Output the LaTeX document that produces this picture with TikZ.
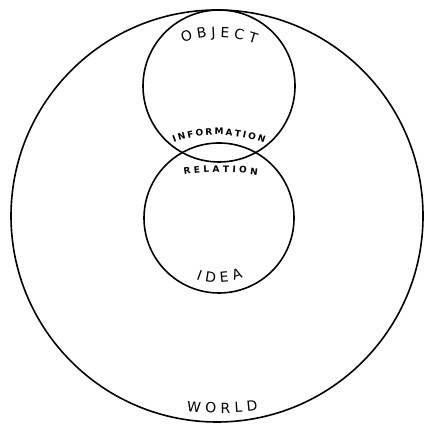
\documentclass[tikz,border=0pt]{standalone}
\usepackage{fontspec}
\setmainfont{DejaVu Sans}
\usetikzlibrary{decorations.text}

\begin{document}
\begin{tikzpicture}[x=1pt,y=1pt,
  ring/.style={line width=1.6pt},
  arcword/.style={decoration={text along path, text={#1}, text align=center},
    decorate}]
  \useasboundingbox (0,0) rectangle (426,427);
  % the three circles
  \draw[ring] (217,211) circle (206);
  \draw[ring] (219,341) circle (76);
  \draw[ring] (219,209) circle (75);
  % words along the arcs, a kern before each letter spreads them
  \path[arcword={|\fontsize{14}{14}\selectfont\kern4.5pt|OBJECT}]
    (217,280) ++(130:110) arc[start angle=130, end angle=50, radius=110];
  \path[arcword={|\bfseries\fontsize{9}{9}\selectfont\kern2pt|INFORMATION}]
    (218,162) ++(125:130) arc[start angle=125, end angle=55, radius=130];
  \path[arcword={|\bfseries\fontsize{9}{9}\selectfont\kern3.3pt|RELATION}]
    (219,25) ++(105:230) arc[start angle=105, end angle=75, radius=230];
  \path[arcword={|\fontsize{14}{14}\selectfont\kern5pt|IDEA}]
    (217,206) ++(230:62) arc[start angle=230, end angle=310, radius=62];
  \path[arcword={|\fontsize{14}{14}\selectfont\kern4.5pt|WORLD}]
    (220,314) ++(255:300) arc[start angle=255, end angle=285, radius=300];
\end{tikzpicture}
\end{document}
